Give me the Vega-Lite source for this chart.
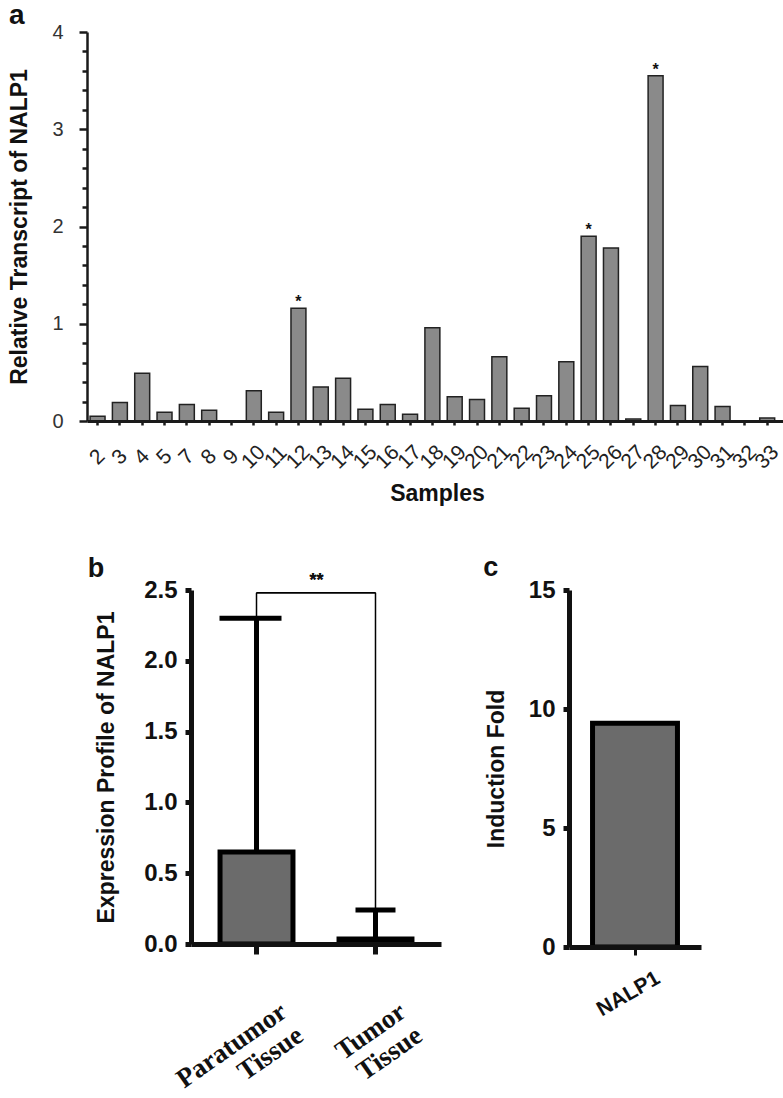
{
  "$schema": "https://vega.github.io/schema/vega-lite/v6.json",
  "padding": {"left": 7, "top": 2, "right": 0, "bottom": 0},
  "config": {
    "view": {"stroke": null},
    "font": "Liberation Sans",
    "axis": {"grid": false, "ticks": true, "domainColor": "#111", "tickColor": "#111", "labelColor": "#222", "titleColor": "#111", "labelFont": "Liberation Sans", "titleFont": "Liberation Sans"}
  },
  "spacing": 48,
  "vconcat": [
    {
      "spacing": 0,
      "hconcat": [
        {
          "width": 1, "height": 1,
          "data": {"values": [{"k": 1}]},
          "mark": {"type": "point", "opacity": 0, "size": 1}
        },
        {
          "title": {"text": "a", "anchor": "start", "frame": "bounds", "fontSize": 28, "fontWeight": "bold", "offset": -8, "color": "#111"},
          "width": 700,
          "height": 389,
          "data": {"values": [
            {"sample": "2", "value": 0.05, "sig": ""},
            {"sample": "3", "value": 0.19, "sig": ""},
            {"sample": "4", "value": 0.49, "sig": ""},
            {"sample": "5", "value": 0.09, "sig": ""},
            {"sample": "7", "value": 0.17, "sig": ""},
            {"sample": "8", "value": 0.11, "sig": ""},
            {"sample": "9", "value": 0.0, "sig": ""},
            {"sample": "10", "value": 0.31, "sig": ""},
            {"sample": "11", "value": 0.09, "sig": ""},
            {"sample": "12", "value": 1.16, "sig": "*"},
            {"sample": "13", "value": 0.35, "sig": ""},
            {"sample": "14", "value": 0.44, "sig": ""},
            {"sample": "15", "value": 0.12, "sig": ""},
            {"sample": "16", "value": 0.17, "sig": ""},
            {"sample": "17", "value": 0.07, "sig": ""},
            {"sample": "18", "value": 0.96, "sig": ""},
            {"sample": "19", "value": 0.25, "sig": ""},
            {"sample": "20", "value": 0.22, "sig": ""},
            {"sample": "21", "value": 0.66, "sig": ""},
            {"sample": "22", "value": 0.13, "sig": ""},
            {"sample": "23", "value": 0.26, "sig": ""},
            {"sample": "24", "value": 0.61, "sig": ""},
            {"sample": "25", "value": 1.90, "sig": "*"},
            {"sample": "26", "value": 1.78, "sig": ""},
            {"sample": "27", "value": 0.02, "sig": ""},
            {"sample": "28", "value": 3.55, "sig": "*"},
            {"sample": "29", "value": 0.16, "sig": ""},
            {"sample": "30", "value": 0.56, "sig": ""},
            {"sample": "31", "value": 0.15, "sig": ""},
            {"sample": "32", "value": 0.0, "sig": ""},
            {"sample": "33", "value": 0.03, "sig": ""}
          ]},
          "resolve": {"axis": {"y": "independent"}},
          "encoding": {
            "x": {
              "field": "sample", "type": "nominal", "sort": null,
              "scale": {"paddingInner": 0.33, "paddingOuter": 0.345, "align": 0.2},
              "axis": {"title": "Samples", "titleFontSize": 23, "titleFontWeight": "bold", "titlePadding": 10,
                       "labelAngle": -45, "labelAlign": "center", "labelBaseline": "middle", "labelFontSize": 21, "labelColor": "#222",
                       "labelPadding": 32, "labelOverlap": false, "ticks": true, "tickSize": 4, "tickWidth": 2.5, "tickColor": "#1a1a1a",
                       "domain": true, "domainWidth": 3, "domainColor": "#1a1a1a", "zindex": 1}
            }
          },
          "layer": [
            {
              "mark": {"type": "bar", "fill": "#8a8a8a", "stroke": "#222", "strokeWidth": 1.5},
              "encoding": {
                "y": {"field": "value", "type": "quantitative",
                      "scale": {"domain": [0, 4], "nice": false},
                      "axis": {"orient": "left", "title": "Relative Transcript of NALP1", "titleFontSize": 23, "titleFontWeight": "bold", "titlePadding": 20,
                               "values": [0, 1, 2, 3, 4], "format": "d", "labelOverlap": false, "ticks": true, "tickColor": "#1a1a1a",
                               "tickSize": 8, "tickWidth": 2.5, "domainWidth": 2.5, "domainColor": "#1a1a1a", "labelFontSize": 20, "labelColor": "#333", "labelPadding": 16, "zindex": 1}}
              }
            },
            {
              "mark": {"type": "text", "baseline": "bottom", "dy": 2, "fontSize": 16, "fontWeight": "bold", "color": "#111"},
              "encoding": {
                "y": {"field": "value", "type": "quantitative",
                      "axis": {"orient": "left", "title": null, "labels": false, "domain": false, "ticks": true, "tickColor": "#1a1a1a",
                               "values": [0.2, 0.4, 0.6, 0.8, 1.2, 1.4, 1.6, 1.8, 2.2, 2.4, 2.6, 2.8, 3.2, 3.4, 3.6, 3.8],
                               "tickSize": 5, "tickWidth": 2.5, "zindex": 1}},
                "text": {"field": "sig"}
              }
            }
          ]
        }
      ]
    },
    {
      "spacing": 42,
      "hconcat": [
        {
          "width": 38, "height": 1,
          "data": {"values": [{"k": 1}]},
          "mark": {"type": "point", "opacity": 0, "size": 1}
        },
        {
          "title": {"text": "b", "anchor": "start", "frame": "bounds", "fontSize": 27, "fontWeight": "bold", "offset": -11, "dx": -8, "color": "#111"},
          "width": 250,
          "height": 354,
          "data": {"values": [
            {"group": "Paratumor Tissue", "mean": 0.65, "upper": 2.30},
            {"group": "Tumor Tissue", "mean": 0.035, "upper": 0.24}
          ]},
          "encoding": {
            "x": {"field": "group", "type": "nominal", "sort": null,
                  "scale": {"paddingInner": 0.387, "paddingOuter": 0.244},
                  "axis": {"title": null, "labelAngle": -35, "labelAlign": "right", "labelBaseline": "top",
                           "labelExpr": "split(datum.label, ' ')", "labelOffset": 20,
                           "labelFont": "Liberation Serif", "labelFontWeight": "bold", "labelFontSize": 27, "labelColor": "#111",
                           "labelPadding": 44, "labelOverlap": false, "tickSize": 10, "tickWidth": 5, "domainWidth": 5, "zindex": 1}}
          },
          "layer": [
            {
              "mark": {"type": "bar", "fill": "#6b6b6b", "stroke": "#000", "strokeWidth": 5},
              "encoding": {
                "y": {"field": "mean", "type": "quantitative",
                      "scale": {"domain": [0, 2.5], "nice": false},
                      "axis": {"title": "Expression Profile of NALP1", "titleFontSize": 23, "titleFontWeight": "bold", "titlePadding": 25,
                               "values": [0, 0.5, 1, 1.5, 2, 2.5], "format": ".1f", "labelOverlap": false,
                               "labelFontSize": 24, "labelFontWeight": "bold", "labelColor": "#111", "labelPadding": 8,
                               "tickSize": 6, "tickWidth": 5, "domainWidth": 5}}
              }
            },
            {
              "mark": {"type": "rule", "color": "#000", "strokeWidth": 5},
              "encoding": {
                "y": {"field": "mean", "type": "quantitative"},
                "y2": {"field": "upper"}
              }
            },
            {
              "transform": [{"filter": "datum.group == 'Paratumor Tissue'"}],
              "mark": {"type": "tick", "color": "#000", "opacity": 1, "thickness": 5, "size": 62, "xOffset": -6},
              "encoding": {"y": {"field": "upper", "type": "quantitative"}}
            },
            {
              "transform": [{"filter": "datum.group == 'Tumor Tissue'"}],
              "mark": {"type": "tick", "color": "#000", "opacity": 1, "thickness": 5, "size": 40},
              "encoding": {"y": {"field": "upper", "type": "quantitative"}}
            },
            {
              "mark": {"type": "rule", "color": "#000", "strokeWidth": 1.5},
              "encoding": {
                "y": {"field": "upper", "type": "quantitative"},
                "y2": {"datum": 2.48}
              }
            },
            {
              "mark": {"type": "rule", "color": "#000", "strokeWidth": 1.5},
              "encoding": {
                "x": {"datum": "Paratumor Tissue"},
                "x2": {"datum": "Tumor Tissue"},
                "y": {"datum": 2.48}
              }
            },
            {
              "mark": {"type": "text", "text": "**", "fontSize": 18, "fontWeight": "bold", "baseline": "bottom", "dx": 60, "dy": -3, "color": "#111"},
              "encoding": {
                "x": {"datum": "Paratumor Tissue"},
                "y": {"datum": 2.48}
              }
            }
          ]
        },
        {
          "title": {"text": "c", "anchor": "start", "frame": "bounds", "fontSize": 27, "fontWeight": "bold", "offset": -4, "dx": -2, "color": "#111"},
          "width": 132,
          "height": 357,
          "data": {"values": [{"gene": "NALP1", "fold": 9.4}]},
          "mark": {"type": "bar", "fill": "#6b6b6b", "stroke": "#000", "strokeWidth": 5},
          "encoding": {
            "x": {"field": "gene", "type": "nominal",
                  "scale": {"paddingInner": 0.3, "paddingOuter": 0.194},
                  "axis": {"title": null, "labelAngle": -30, "labelAlign": "right", "labelBaseline": "top", "labelOffset": 18,
                           "labelFontWeight": "bold", "labelFontSize": 21, "labelColor": "#111", "labelPadding": 12,
                           "tickSize": 8, "tickWidth": 3, "domainWidth": 5, "zindex": 1}},
            "y": {"field": "fold", "type": "quantitative",
                  "scale": {"domain": [0, 15], "nice": false},
                  "axis": {"title": "Induction Fold", "titleFontSize": 23, "titleFontWeight": "bold", "titlePadding": 20,
                           "values": [0, 5, 10, 15], "labelOverlap": false,
                           "labelFontSize": 24, "labelFontWeight": "bold", "labelColor": "#111", "labelPadding": 8,
                           "tickSize": 6, "tickWidth": 5, "domainWidth": 5}}
          }
        }
      ]
    }
  ]
}
